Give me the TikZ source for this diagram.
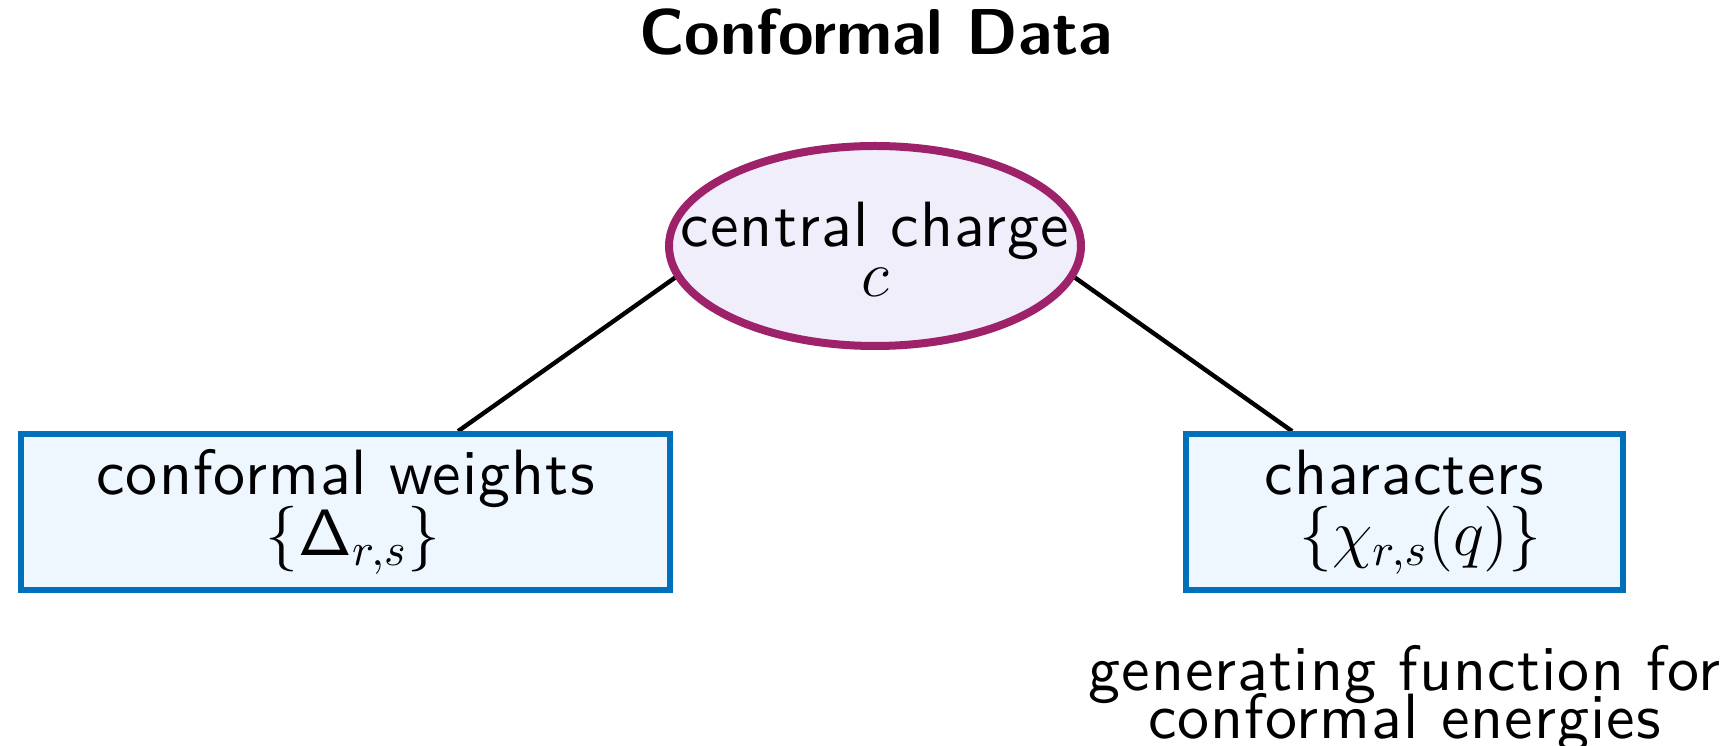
\RequirePackage{fix-cm}
\documentclass[tikz,border=0pt]{standalone}
\usepackage[no-math]{fontspec}
\newfontfamily\trackedsans{lmsans10-regular.otf}[LetterSpace=1.7]
\usetikzlibrary{shapes.geometric,calc}
\definecolor{ccdraw}{RGB}{158,34,106}
\definecolor{ccfill}{RGB}{240,238,250}
\definecolor{bxdraw}{RGB}{0,112,187}
\definecolor{bxfill}{RGB}{238,246,255}
\pgfdeclarelayer{bg}
\pgfsetlayers{bg,main}
\newcommand\mytextfont{\trackedsans\fontsize{16}{12}\selectfont\lineskiplimit=-100pt\relax}
\newcommand\mytitlefont{\sffamily\bfseries\fontsize{16.2}{12}\selectfont}
\newcommand\mymath[1]{{\fontsize{16.4}{12}\selectfont$#1$}}
\begin{document}
\begin{tikzpicture}[x=0.25pt,y=-0.25pt,
  txt/.style={font=\mytextfont, align=center, inner sep=0pt},
  ccshape/.style={ellipse, draw=ccdraw, fill=ccfill, line width=2pt, minimum width=103pt, minimum height=50pt, inner sep=0pt},
  databox/.style={rectangle, draw=bxdraw, fill=bxfill, line width=1.4pt, minimum height=39pt, inner sep=0pt, txt},
  link/.style={draw=black, line width=1.1pt}]
\useasboundingbox (0,0) rectangle (1723,746);
\node[txt, font=\mytitlefont, anchor=base] (title) at (876,55) {Conformal Data};
\node[ccshape] (cc) at (875,246) {};
\node[txt] (cctext) at (875,249.5) {central charge\\[0.5pt] \mymath{c}};
\node[databox, minimum width=162.25pt] (weights) at (345.5,512) {conformal weights\\[3.25pt] \hspace*{3.8pt}\mymath{\{\mathsf{\Delta}_{r,s}\}}};
\node[databox, minimum width=109.25pt] (chars) at (1404.5,512) {characters\\[3.25pt] \hspace*{8pt}\mymath{\{\chi_{r,s}(q)\}}};
\node[txt, anchor=north] (gen) at (1404.5,645) {generating function for\\[0pt] conformal energies};
\begin{pgfonlayer}{bg}
\draw[link] (cc.189) -- ($(weights.north west)!0.672!(weights.north east)$);
\draw[link] (cc.351) -- ($(chars.north west)!0.246!(chars.north east)$);
\end{pgfonlayer}
\end{tikzpicture}
\end{document}
